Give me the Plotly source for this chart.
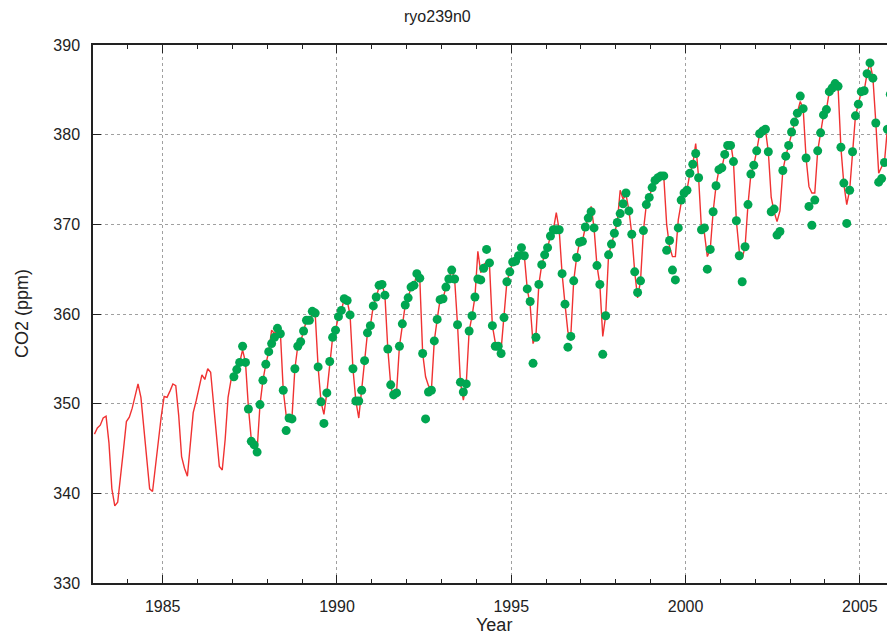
import plotly.graph_objects as go

# ---- data ----
line_start_year = 1983          # red line: monthly values from Jan 1983
line_co2 = [
    346.6, 347.3, 347.6, 348.4, 348.6, 345.6, 340.5, 338.6, 339.0, 341.7, 344.9, 348.0,  # 1983
    348.5, 349.5, 350.7, 352.2, 350.7, 347.4, 343.9, 340.5, 340.2, 343.2, 345.9, 348.6,  # 1984
    350.8, 350.7, 351.4, 352.2, 352.0, 348.7, 344.1, 342.8, 341.9, 345.8, 349.0, 350.3,  # 1985
    351.7, 353.2, 352.7, 353.9, 353.5, 349.7, 346.4, 343.0, 342.6, 346.0, 350.7, 352.6,  # 1986
    353.0, 353.8, 354.6, 356.0, 354.6, 349.6, 346.0, 345.2, 344.8, 349.9, 352.6, 354.4,  # 1987
    355.8, 358.2, 357.8, 358.3, 358.0, 351.5, 348.7, 348.3, 348.4, 353.9, 356.4, 356.9,  # 1988
    358.1, 359.3, 359.3, 360.0, 360.0, 354.1, 350.2, 348.8, 351.2, 354.7, 357.4, 358.2,  # 1989
    359.7, 360.4, 361.7, 361.5, 359.9, 353.9, 350.3, 348.4, 351.5, 354.8, 357.9, 358.7,  # 1990
    360.9, 361.9, 363.0, 363.3, 362.1, 356.1, 352.1, 350.5, 351.2, 356.4, 358.9, 361.0,  # 1991
    361.8, 363.0, 363.2, 364.5, 364.0, 355.6, 353.0, 352.0, 351.5, 357.0, 359.4, 361.6,  # 1992
    361.7, 363.0, 363.9, 364.9, 363.9, 358.8, 352.4, 350.4, 352.2, 358.1, 359.8, 361.9,  # 1993
    367.0, 364.6, 365.5, 365.8, 365.5, 358.7, 356.8, 356.5, 356.0, 359.6, 363.6, 364.7,  # 1994
    365.8, 365.9, 366.5, 367.0, 366.5, 362.8, 361.0, 356.7, 357.6, 363.3, 365.5, 366.6,  # 1995
    367.4, 368.7, 369.4, 371.3, 369.4, 364.5, 361.1, 358.0, 357.6, 363.7, 366.3, 368.0,  # 1996
    368.1, 369.7, 370.7, 372.0, 369.6, 365.4, 363.3, 357.5, 359.8, 366.6, 367.8, 369.0,  # 1997
    370.2, 373.8, 372.8, 373.3, 371.6, 368.9, 364.7, 361.8, 363.7, 369.3, 372.2, 373.0,  # 1998
    374.1, 374.9, 375.2, 375.4, 375.4, 370.0, 367.5, 366.4, 366.4, 370.5, 372.4, 373.5,  # 1999
    373.8, 375.7, 376.7, 379.0, 375.2, 369.4, 369.0, 366.4, 367.2, 371.4, 374.3, 376.1,  # 2000
    376.3, 377.8, 378.8, 379.2, 377.0, 370.4, 367.0, 366.2, 367.5, 372.2, 375.6, 376.6,  # 2001
    378.2, 380.1, 380.4, 380.6, 378.1, 373.0, 371.4, 370.3, 371.5, 376.0, 377.6, 378.8,  # 2002
    380.3, 381.4, 382.4, 383.7, 382.9, 377.4, 374.2, 373.5, 373.5, 378.2, 380.2, 382.2,  # 2003
    382.8, 384.8, 385.3, 385.6, 385.4, 378.5, 374.5, 372.2, 373.8, 378.2, 382.1, 383.4,  # 2004
    384.8, 384.9, 386.8, 388.0, 386.4, 381.4, 375.7, 376.4, 377.0, 380.7, 383.5,         # 2005
]

obs_start_year = 1987           # green dots: monthly observations from Jan 1987
obs_co2 = [
    353.0, 353.8, 354.6, 356.4, 354.6, 349.4, 345.8, 345.4, 344.6, 349.9, 352.6, 354.4,  # 1987
    355.8, 356.7, 357.4, 358.4, 357.8, 351.5, 347.0, 348.4, 348.3, 353.9, 356.4, 356.9,  # 1988
    358.1, 359.3, 359.3, 360.3, 360.1, 354.1, 350.2, 347.8, 351.2, 354.7, 357.4, 358.2,  # 1989
    359.7, 360.4, 361.7, 361.5, 359.9, 353.9, 350.3, 350.3, 351.5, 354.8, 357.9, 358.7,  # 1990
    360.9, 361.9, 363.2, 363.3, 362.1, 356.1, 352.1, 351.0, 351.2, 356.4, 358.9, 361.0,  # 1991
    361.8, 363.0, 363.2, 364.5, 364.0, 355.6, 348.3, 351.3, 351.5, 357.0, 359.4, 361.6,  # 1992
    361.7, 363.0, 363.9, 364.9, 363.9, 358.8, 352.4, 351.3, 352.2, 358.1, 359.8, 361.9,  # 1993
    363.9, 363.8, 365.1, 367.2, 365.7, 358.7, 356.4, 356.4, 355.6, 359.6, 363.6, 364.7,  # 1994
    365.8, 365.9, 366.5, 367.4, 366.5, 362.8, 361.4, 354.5, 357.4, 363.3, 365.5, 366.6,  # 1995
    367.4, 368.7, 369.4, 369.4, 369.4, 364.5, 361.1, 356.3, 357.5, 363.7, 366.3, 368.0,  # 1996
    368.1, 369.7, 370.7, 371.4, 369.6, 365.4, 363.3, 355.5, 359.8, 366.6, 367.8, 369.0,  # 1997
    370.2, 371.2, 372.3, 373.5, 371.5, 368.9, 364.7, 362.4, 363.7, 369.3, 372.2, 373.0,  # 1998
    374.1, 374.9, 375.2, 375.4, 375.4, 367.1, 368.2, 364.9, 363.8, 369.6, 372.7, 373.5,  # 1999
    373.8, 375.7, 376.7, 377.9, 375.2, 369.4, 369.6, 365.0, 367.2, 371.4, 374.3, 376.1,  # 2000
    376.3, 377.8, 378.8, 378.8, 377.0, 370.4, 366.5, 363.6, 367.5, 372.2, 375.6, 376.6,  # 2001
    378.2, 380.1, 380.4, 380.6, 378.1, 371.4, 371.7, 368.8, 369.2, 376.0, 377.6, 378.8,  # 2002
    380.3, 381.4, 382.4, 384.3, 382.9, 377.4, 372.0, 369.9, 372.7, 378.2, 380.2, 382.2,  # 2003
    382.8, 384.8, 385.2, 385.7, 385.4, 378.6, 374.6, 370.1, 373.8, 378.1, 382.1, 383.4,  # 2004
    384.8, 384.9, 386.8, 388.0, 386.3, 381.3, 374.7, 375.1, 376.9, 380.6, 384.5,         # 2005
]

x_tick_vals = [1985, 1990, 1995, 2000, 2005]
x_tick_text = ["1985", "1990", "1995", "2000", "2005"]
y_tick_vals = [330, 340, 350, 360, 370, 380, 390]
y_tick_text = ["330", "340", "350", "360", "370", "380", "390"]

title_text = "ryo239n0"
x_title = "Year"
y_title = "CO2 (ppm)"

# decimal-year positions (mid-month)
line_x = [line_start_year + (i + 0.5) / 12 for i in range(len(line_co2))]
obs_x = [obs_start_year + (i + 0.5) / 12 for i in range(len(obs_co2))]

W, H = 887, 634
L, R, T, B = 93, 0, 45, 51
pw, ph = W - L - R, H - T - B

def px_to_paper_x(px):
    return (px - L) / pw

def px_to_paper_y(py):
    return (H - B - py) / ph

FONT = "Liberation Sans, Arial, sans-serif"
TXT = "#222222"
AX = "#222222"

fig = go.Figure()
fig.add_trace(go.Scatter(
    x=line_x, y=line_co2, mode="lines",
    line=dict(color="#f03232", width=1.4),
    hoverinfo="x+y", showlegend=False,
))
fig.add_trace(go.Scatter(
    x=obs_x, y=obs_co2, mode="markers",
    marker=dict(color="#00a651", size=9, line=dict(width=0)),
    hoverinfo="x+y", showlegend=False,
))

fig.update_layout(
    width=W, height=H,
    margin=dict(l=L, r=R, t=T, b=B, pad=0),
    paper_bgcolor="white", plot_bgcolor="white",
    font=dict(family=FONT, size=16, color=TXT),
    showlegend=False,
    xaxis=dict(
        range=[1983.0, 2005.78],
        tickmode="array", tickvals=x_tick_vals, ticktext=x_tick_text,
        ticks="inside", ticklen=8, tickwidth=1, tickcolor=AX,
        showline=True, linecolor=AX, linewidth=1.5, mirror="ticks",
        showgrid=True, gridcolor="#a0a0a0", gridwidth=1, griddash="dot",
        zeroline=False,
        tickfont=dict(family=FONT, size=16, color=TXT),
        ticklabelstandoff=8,
        minor=dict(tickmode="linear", tick0=1983, dtick=1, ticks="inside",
                   ticklen=4, tickwidth=1, tickcolor=AX, showgrid=False),
    ),
    yaxis=dict(
        range=[330, 390],
        tickmode="array", tickvals=y_tick_vals, ticktext=y_tick_text,
        ticks="inside", ticklen=8, tickwidth=1, tickcolor=AX,
        showline=True, linecolor=AX, linewidth=1.5, mirror=False,
        showgrid=True, gridcolor="#a0a0a0", gridwidth=1, griddash="dot",
        zeroline=False,
        tickfont=dict(family=FONT, size=16, color=TXT),
        ticklabelstandoff=8,
    ),
    annotations=[
        dict(text=title_text, xref="paper", yref="paper",
             x=px_to_paper_x(437), y=px_to_paper_y(16),
             xanchor="center", yanchor="middle", showarrow=False,
             font=dict(family=FONT, size=16, color=TXT)),
        dict(text=x_title, xref="paper", yref="paper",
             x=px_to_paper_x(494), y=px_to_paper_y(625),
             xanchor="center", yanchor="middle", showarrow=False,
             font=dict(family=FONT, size=18, color=TXT)),
        dict(text=y_title, xref="paper", yref="paper",
             x=px_to_paper_x(22), y=px_to_paper_y(314), textangle=-90,
             xanchor="center", yanchor="middle", showarrow=False,
             font=dict(family=FONT, size=18, color=TXT)),
    ],
)

# remove the page's default 8px body margin so the figure sits at (0, 0)
fig.write_html(
    "out.html",
    config={"displayModeBar": False},
    post_script="document.body.style.margin='0';document.body.style.overflow='hidden';",
)
